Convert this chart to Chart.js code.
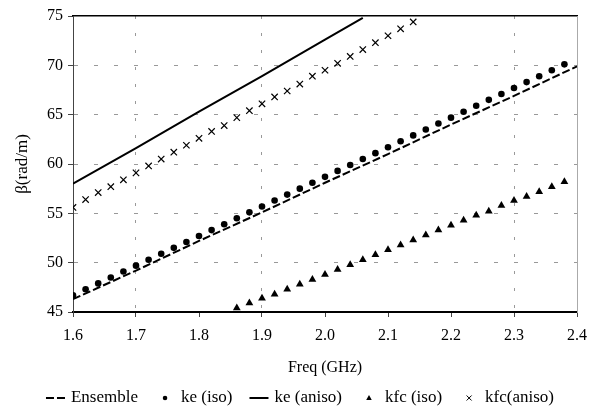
<!DOCTYPE html>
<html>
<head>
<meta charset="utf-8">
<script src="https://cdn.jsdelivr.net/npm/chart.js@4/dist/chart.umd.min.js"></script>
<style>
  html, body { margin: 0; padding: 0; background: #fff; }
</style>
</head>
<body>
<canvas id="chart" width="600" height="416"></canvas>
<script>
// Frequency points (GHz) of the marker series
const freqs = [1.60, 1.62, 1.64, 1.66, 1.68, 1.70, 1.72, 1.74, 1.76, 1.78,
               1.80, 1.82, 1.84, 1.86, 1.88, 1.90, 1.92, 1.94, 1.96, 1.98,
               2.00, 2.02, 2.04, 2.06, 2.08, 2.10, 2.12, 2.14, 2.16, 2.18,
               2.20, 2.22, 2.24, 2.26, 2.28, 2.30, 2.32, 2.34, 2.36, 2.38];

// beta (rad/m)
const keIso = [46.7, 47.3, 47.9, 48.5, 49.1, 49.7, 50.3, 50.9, 51.5, 52.1,
               52.7, 53.3, 53.9, 54.5, 55.1, 55.7, 56.3, 56.9, 57.5, 58.1,
               58.7, 59.3, 59.9, 60.5, 61.1, 61.7, 62.3, 62.9, 63.5, 64.1,
               64.7, 65.3, 65.9, 66.5, 67.1, 67.7, 68.3, 68.9, 69.5, 70.1];

// kfc (iso) starts at 1.86 GHz
const kfcIsoFreqs = freqs.slice(13);
const kfcIso = [45.4, 45.9, 46.4, 46.8, 47.3, 47.8, 48.3, 48.8, 49.3, 49.8,
                50.3, 50.8, 51.3, 51.8, 52.3, 52.8, 53.3, 53.8, 54.3, 54.8,
                55.2, 55.8, 56.3, 56.7, 57.2, 57.7, 58.2];

// kfc (aniso) ends at 2.14 GHz
const kfcAnisoFreqs = freqs.slice(0, 28);
const kfcAniso = [55.6, 56.4, 57.1, 57.7, 58.4, 59.1, 59.8, 60.5, 61.2, 61.9,
                  62.6, 63.3, 63.9, 64.7, 65.4, 66.1, 66.8, 67.4, 68.1, 68.9,
                  69.5, 70.2, 70.9, 71.6, 72.3, 73.0, 73.7, 74.4];

// line series
const ensembleFreqs = [1.6, 1.7, 1.8, 1.9, 2.0, 2.1, 2.2, 2.3, 2.4];
const ensemble = [46.3, 49.2, 52.2, 55.1, 58.1, 61.0, 64.0, 66.9, 69.9];

const keAnisoFreqs = [1.6, 1.7, 1.8, 1.9, 2.0, 2.06];
const keAniso = [58.0, 61.6, 65.3, 68.9, 72.6, 74.8];

const xTicks = [1.6, 1.7, 1.8, 1.9, 2.0, 2.1, 2.2, 2.3, 2.4];
const xGridAt = [1.7, 1.9, 2.3];

function pts(xs, ys) {
  return ys.map((y, i) => ({ x: xs[i], y: y }));
}

Chart.defaults.font.family = "'Liberation Serif', 'Times New Roman', serif";
Chart.defaults.color = "#000";

// Legend drawn below the axis title, one row, centred
const bottomLegend = {
  id: "bottomLegend",
  afterDraw(chart) {
    const ctx = chart.ctx;
    const y = 398;
    const gap = 6;
    const spacing = 17;
    ctx.save();
    ctx.font = "17px 'Liberation Serif'";
    ctx.textBaseline = "middle";
    const items = chart.data.datasets.map((ds) => ({
      ds: ds,
      sw: ds.showLine ? 19 : 20,
      tw: ctx.measureText(ds.label).width,
    }));
    let total = spacing * (items.length - 1);
    items.forEach((it) => (total += it.sw + gap + it.tw));
    let x = (chart.width - total) / 2;

    items.forEach((it) => {
      const ds = it.ds;
      const cx = x + it.sw / 2;
      ctx.fillStyle = "#000";
      ctx.strokeStyle = "#000";
      if (ds.showLine) {
        ctx.lineWidth = ds.borderWidth;
        ctx.setLineDash(ds.borderDash || []);
        ctx.beginPath();
        ctx.moveTo(x, y);
        ctx.lineTo(x + it.sw, y);
        ctx.stroke();
        ctx.setLineDash([]);
      } else if (ds.pointStyle === "circle") {
        ctx.beginPath();
        ctx.arc(cx, y, 2.3, 0, Math.PI * 2);
        ctx.fill();
      } else if (ds.pointStyle === "triangle") {
        ctx.beginPath();
        ctx.moveTo(cx, y - 3);
        ctx.lineTo(cx + 2.8, y + 2);
        ctx.lineTo(cx - 2.8, y + 2);
        ctx.closePath();
        ctx.fill();
      } else {
        ctx.lineWidth = 1;
        ctx.beginPath();
        ctx.moveTo(cx - 2.5, y - 2.5);
        ctx.lineTo(cx + 2.5, y + 2.5);
        ctx.moveTo(cx + 2.5, y - 2.5);
        ctx.lineTo(cx - 2.5, y + 2.5);
        ctx.stroke();
      }
      ctx.fillText(ds.label, x + it.sw + gap, y);
      x += it.sw + gap + it.tw + spacing;
    });
    ctx.restore();
  },
};

function round1(v) {
  return Math.round(v * 10) / 10;
}

const chart = new Chart(document.getElementById("chart"), {
  type: "scatter",
  data: {
    datasets: [
      {
        label: "Ensemble",
        data: pts(ensembleFreqs, ensemble),
        showLine: true,
        borderColor: "#000",
        borderWidth: 2,
        borderDash: [8, 3],
        pointRadius: 0,
      },
      {
        label: "ke (iso)",
        data: pts(freqs, keIso),
        pointStyle: "circle",
        pointRadius: 3.3,
        backgroundColor: "#000",
        borderColor: "#000",
        borderWidth: 0,
      },
      {
        label: "ke (aniso)",
        data: pts(keAnisoFreqs, keAniso),
        showLine: true,
        borderColor: "#000",
        borderWidth: 2,
        pointRadius: 0,
      },
      {
        label: "kfc (iso)",
        data: pts(kfcIsoFreqs, kfcIso),
        pointStyle: "triangle",
        pointRadius: 4.5,
        backgroundColor: "#000",
        borderColor: "#000",
        borderWidth: 0,
      },
      {
        label: "kfc(aniso)",
        data: pts(kfcAnisoFreqs, kfcAniso),
        pointStyle: "crossRot",
        pointRadius: 4.5,
        borderColor: "#000",
        borderWidth: 1.2,
      },
    ],
  },
  options: {
    responsive: false,
    animation: false,
    layout: { padding: { top: 16, right: 23, bottom: 34, left: 0 } },
    plugins: {
      legend: { display: false },
      tooltip: { enabled: false },
    },
    scales: {
      x: {
        type: "linear",
        position: "bottom",
        min: 1.6,
        max: 2.4,
        afterBuildTicks: (s) => {
          s.ticks = xTicks.map((v) => ({ value: v }));
        },
        ticks: {
          callback: (v) => v.toFixed(1),
          font: { size: 16 },
          padding: 9,
          maxRotation: 0,
        },
        grid: {
          color: (c) =>
            c.tick && xGridAt.includes(round1(c.tick.value)) ? "#999" : "rgba(0,0,0,0)",
          tickColor: "#444",
          tickLength: 5,
          lineWidth: 1,
        },
        border: { color: "#000", width: 2, dash: [3, 14] },
        title: {
          display: true,
          text: "Freq (GHz)",
          font: { size: 16 },
          padding: { top: 2, bottom: 5 },
        },
        afterFit: (s) => {
          s.height = 70;
        },
      },
      x2: {
        type: "linear",
        position: "top",
        min: 1.6,
        max: 2.4,
        ticks: { display: false },
        grid: { display: false },
        border: { display: true, color: "#000", width: 1.5 },
        afterFit: (s) => {
          s.height = 0;
        },
      },
      y: {
        min: 45,
        max: 75,
        ticks: { stepSize: 5, font: { size: 16 }, padding: 5 },
        grid: {
          color: (c) =>
            c.tick && c.tick.value > 45 && c.tick.value < 75 ? "#999" : "rgba(0,0,0,0)",
          tickColor: "#444",
          tickLength: 5,
          lineWidth: 1,
        },
        border: { color: "#444", width: 1, dash: [4, 16] },
        title: {
          display: true,
          text: "β(rad/m)",
          font: { size: 17 },
          padding: { top: 12, bottom: 0 },
        },
        afterFit: (s) => {
          s.width = 73;
        },
      },
      y2: {
        position: "right",
        min: 45,
        max: 75,
        ticks: { display: false },
        grid: { display: false },
        border: { display: true, color: "#aaa", width: 1 },
        afterFit: (s) => {
          s.width = 0;
        },
      },
    },
  },
  plugins: [bottomLegend],
});
</script>
</body>
</html>
